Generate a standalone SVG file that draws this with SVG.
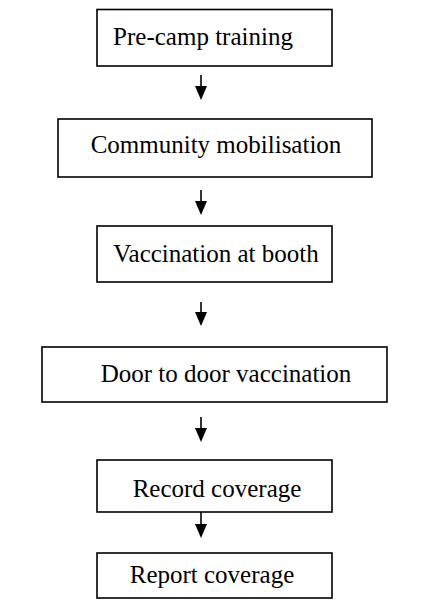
<svg xmlns="http://www.w3.org/2000/svg" width="437" height="600" viewBox="0 0 437 600">
  <style>
    .box { fill: #ffffff; stroke: #000000; stroke-width: 1.6; }
    .label { font-family: "Liberation Serif", "Times New Roman", serif; font-size: 25px; fill: #000000; text-anchor: middle; }
    .link { stroke: #000000; stroke-width: 1.6; fill: none; }
    .head { fill: #000000; stroke: none; }
  </style>
  <rect width="437" height="600" fill="#ffffff"/>

  <g id="pre-camp-training">
    <rect class="box" x="97" y="9.5" width="235" height="56.5"/>
    <text class="label" x="203" y="45">Pre-camp training</text>
  </g>
  <g id="community-mobilisation">
    <rect class="box" x="58" y="119" width="314" height="58"/>
    <text class="label" x="216" y="153">Community mobilisation</text>
  </g>
  <g id="vaccination-at-booth">
    <rect class="box" x="97" y="226" width="235" height="56"/>
    <text class="label" x="216" y="262">Vaccination at booth</text>
  </g>
  <g id="door-to-door-vaccination">
    <rect class="box" x="42" y="347" width="345" height="55"/>
    <text class="label" x="226" y="382">Door to door vaccination</text>
  </g>
  <g id="record-coverage">
    <rect class="box" x="97" y="460" width="235" height="52"/>
    <text class="label" x="217" y="497">Record coverage</text>
  </g>
  <g id="report-coverage">
    <rect class="box" x="97" y="553" width="235" height="45"/>
    <text class="label" x="212" y="583">Report coverage</text>
  </g>

  <g id="connectors">
    <line class="link" x1="201" y1="75" x2="201" y2="88"/>
    <polygon class="head" points="195,86 207,86 201,100"/>
    <line class="link" x1="201" y1="190" x2="201" y2="203"/>
    <polygon class="head" points="195,201 207,201 201,215"/>
    <line class="link" x1="201" y1="302" x2="201" y2="314"/>
    <polygon class="head" points="195,312 207,312 201,326"/>
    <line class="link" x1="201" y1="417" x2="201" y2="430"/>
    <polygon class="head" points="195,428 207,428 201,442"/>
    <line class="link" x1="201" y1="512" x2="201" y2="526"/>
    <polygon class="head" points="195,524 207,524 201,538"/>
  </g>
</svg>
